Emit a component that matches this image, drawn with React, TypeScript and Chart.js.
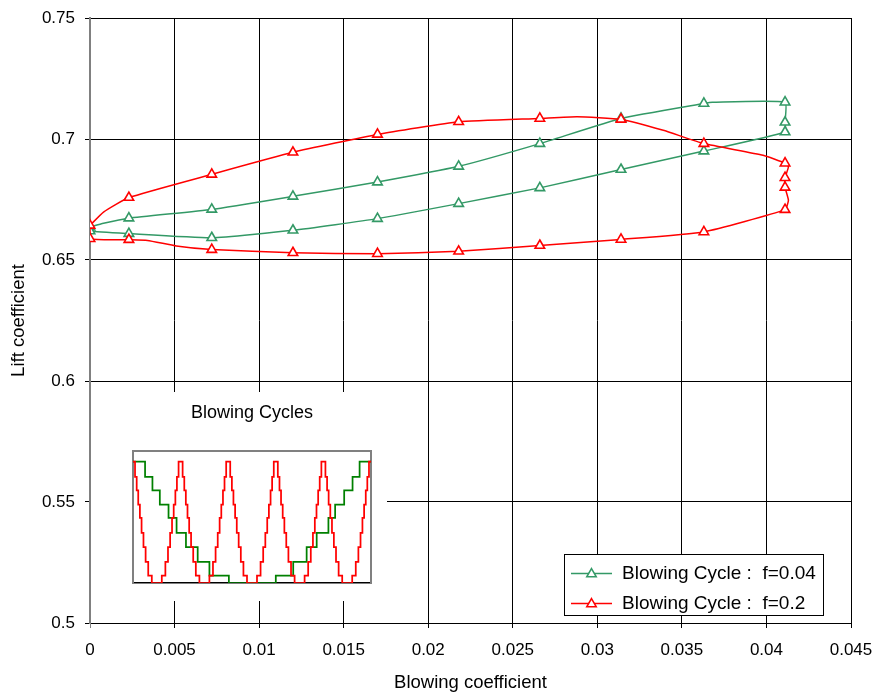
import { useEffect, useRef } from 'react';
import { Chart, registerables } from 'chart.js';
import { drawPoint } from 'chart.js/helpers';

Chart.register(...registerables);

const FONT = '"Liberation Sans", Arial, Helvetica, sans-serif';

// Axis ticks
const X_TICKS = [0, 0.005, 0.01, 0.015, 0.02, 0.025, 0.03, 0.035, 0.04, 0.045];
const X_TICK_LABELS = ['0', '0.005', '0.01', '0.015', '0.02', '0.025', '0.03', '0.035', '0.04', '0.045'];
const Y_TICKS = [0.5, 0.55, 0.6, 0.65, 0.7, 0.75];
const Y_TICK_LABELS = ['0.5', '0.55', '0.6', '0.65', '0.7', '0.75'];

const X_TITLE = 'Blowing coefficient';
const Y_TITLE = 'Lift coefficient';
const SERIES_LABELS = ['Blowing Cycle :  f=0.04', 'Blowing Cycle :  f=0.2'];

// Hysteresis loop, f = 0.04 (blowing coefficient, lift coefficient, marker flag)
const F004_CMU = [
  0, 0.0008, 0.0023, 0.0072, 0.012, 0.017, 0.0218, 0.0266, 0.0314, 0.0363, 0.0368, 0.0411,
  0.0411, 0.0411, 0.0363, 0.0314, 0.0266, 0.0218, 0.017, 0.012, 0.0072, 0.0023, 0, 0,
];
const F004_CL = [
  0.6636, 0.6652, 0.6673, 0.6709, 0.6763, 0.6822, 0.6887, 0.6981, 0.7085, 0.7147, 0.7152, 0.7152,
  0.7069, 0.7029, 0.695, 0.6874, 0.6798, 0.6733, 0.6671, 0.6623, 0.6592, 0.6609, 0.662, 0.6636,
];
const F004_MARK = [1, 0, 1, 1, 1, 1, 1, 1, 1, 1, 0, 1, 1, 1, 1, 1, 1, 1, 1, 1, 1, 1, 1, 0];

// Hysteresis loop, f = 0.2
const F02_CMU = [
  0, 0.0008, 0.0023, 0.0072, 0.012, 0.017, 0.0218, 0.0266, 0.0288, 0.0314, 0.0339, 0.0363,
  0.0398, 0.0411, 0.0413, 0.0411, 0.0411, 0.0413, 0.0411, 0.0363, 0.0314, 0.0266, 0.0218,
  0.017, 0.012, 0.0072, 0.0051, 0.0034, 0.0023, 0, 0,
];
const F02_CL = [
  0.6643, 0.6698, 0.6758, 0.6854, 0.6945, 0.7019, 0.7071, 0.7085, 0.7092, 0.7081, 0.7036, 0.6981,
  0.6933, 0.69, 0.6885, 0.684, 0.68, 0.6747, 0.6708, 0.6616, 0.6585, 0.656, 0.6536,
  0.6526, 0.653, 0.6543, 0.6558, 0.6581, 0.6584, 0.6588, 0.6643,
];
const F02_MARK = [
  1, 0, 1, 1, 1, 1, 1, 1, 0, 1, 0, 1,
  0, 1, 0, 1, 1, 0, 1, 1, 1, 1, 1,
  1, 1, 1, 0, 0, 1, 1, 0,
];

// Inset: blowing cycle waveforms (normalised time 0-100, normalised amplitude 0-1)
const CYCLE_F004_T = [
  0, 5.07, 8.17, 11.27, 14.93, 18.31, 22.25, 27.18, 32.11, 40.28,
  60.0, 67.32, 72.96, 77.18, 82.11, 84.93, 88.73, 92.25, 95.21, 100,
];
const CYCLE_F004_A = [
  1, 0.873, 0.763, 0.645, 0.537, 0.413, 0.295, 0.174, 0.061, 0,
  0.061, 0.174, 0.295, 0.413, 0.537, 0.645, 0.763, 0.873, 1, 1,
];
const CYCLE_F02_T = [
  0,
  0.85, 1.55, 2.2, 2.9, 3.6, 4.4, 5.3, 6.4, 7.9, 12.1, 13.6, 14.7, 15.6, 16.4, 17.1, 17.8, 18.45, 19.15,
  20.85, 21.55, 22.2, 22.9, 23.6, 24.4, 25.3, 26.4, 27.9, 32.1, 33.6, 34.7, 35.6, 36.4, 37.1, 37.8, 38.45, 39.15,
  40.85, 41.55, 42.2, 42.9, 43.6, 44.4, 45.3, 46.4, 47.9, 52.1, 53.6, 54.7, 55.6, 56.4, 57.1, 57.8, 58.45, 59.15,
  60.85, 61.55, 62.2, 62.9, 63.6, 64.4, 65.3, 66.4, 67.9, 72.1, 73.6, 74.7, 75.6, 76.4, 77.1, 77.8, 78.45, 79.15,
  80.85, 81.55, 82.2, 82.9, 83.6, 84.4, 85.3, 86.4, 87.9, 92.1, 93.6, 94.7, 95.6, 96.4, 97.1, 97.8, 98.45, 99.15,
  100,
];
const CYCLE_F02_A = [
  1,
  0.873, 0.763, 0.645, 0.537, 0.413, 0.295, 0.174, 0.061, 0, 0.061, 0.174, 0.295, 0.413, 0.537, 0.645, 0.763, 0.873, 1,
  0.873, 0.763, 0.645, 0.537, 0.413, 0.295, 0.174, 0.061, 0, 0.061, 0.174, 0.295, 0.413, 0.537, 0.645, 0.763, 0.873, 1,
  0.873, 0.763, 0.645, 0.537, 0.413, 0.295, 0.174, 0.061, 0, 0.061, 0.174, 0.295, 0.413, 0.537, 0.645, 0.763, 0.873, 1,
  0.873, 0.763, 0.645, 0.537, 0.413, 0.295, 0.174, 0.061, 0, 0.061, 0.174, 0.295, 0.413, 0.537, 0.645, 0.763, 0.873, 1,
  0.873, 0.763, 0.645, 0.537, 0.413, 0.295, 0.174, 0.061, 0, 0.061, 0.174, 0.295, 0.413, 0.537, 0.645, 0.763, 0.873, 1,
  1,
];
const INSET_TITLE = 'Blowing Cycles';

const GREEN = '#339966';
const RED = '#ff0000';
const CYCLE_GREEN = '#008000';
const MARKER_RADIUS = 5.5;

const toPoints = (xs: number[], ys: number[]) => xs.map((x, i) => ({ x, y: ys[i] }));

// Boxed legend drawn in the lower right corner of the plot area
const legendBox = {
  id: 'legendBox',
  afterDraw(chart: any) {
    const { ctx, chartArea } = chart;
    const w = 259;
    const h = 61;
    const x = chartArea.right - 28 - w;
    const y = chartArea.bottom - 8 - h;
    ctx.save();
    ctx.fillStyle = '#ffffff';
    ctx.fillRect(x, y, w, h);
    ctx.strokeStyle = '#000000';
    ctx.lineWidth = 1;
    ctx.strokeRect(x + 0.5, y + 0.5, w, h);
    chart.data.datasets.forEach((ds: any, i: number) => {
      const cy = y + 19.5 + i * 30;
      ctx.strokeStyle = ds.borderColor;
      ctx.lineWidth = 1.5;
      ctx.beginPath();
      ctx.moveTo(x + 7, cy);
      ctx.lineTo(x + 48, cy);
      ctx.stroke();
      ctx.fillStyle = '#ffffff';
      drawPoint(
        ctx,
        { pointStyle: 'triangle', radius: MARKER_RADIUS, borderWidth: 1.6, rotation: 0 } as any,
        x + 27.5,
        cy + 0.5,
      );
      ctx.fillStyle = '#000000';
      ctx.font = `19px ${FONT}`;
      ctx.textBaseline = 'middle';
      ctx.textAlign = 'left';
      ctx.fillText(ds.label, x + 58, cy);
    });
    ctx.restore();
  },
};

export default function App() {
  const mainRef = useRef<HTMLCanvasElement>(null);
  const insetRef = useRef<HTMLCanvasElement>(null);

  useEffect(() => {
    Chart.defaults.font.family = FONT;
    Chart.defaults.color = '#000';

    const main = new Chart(mainRef.current!, {
      type: 'scatter',
      data: {
        datasets: [
          {
            label: SERIES_LABELS[0],
            data: toPoints(F004_CMU, F004_CL),
            showLine: true,
            borderColor: GREEN,
            borderWidth: 1.5,
            tension: 0.15,
            pointStyle: 'triangle',
            pointRadius: F004_MARK.map((m) => (m ? MARKER_RADIUS : 0)),
            pointBorderWidth: 1.6,
            pointBorderColor: GREEN,
            pointBackgroundColor: '#ffffff',
            order: 1,
          },
          {
            label: SERIES_LABELS[1],
            data: toPoints(F02_CMU, F02_CL),
            showLine: true,
            borderColor: RED,
            borderWidth: 1.5,
            tension: 0.15,
            pointStyle: 'triangle',
            pointRadius: F02_MARK.map((m) => (m ? MARKER_RADIUS : 0)),
            pointBorderWidth: 1.6,
            pointBorderColor: RED,
            pointBackgroundColor: '#ffffff',
            order: 0,
          },
        ],
      },
      options: {
        animation: false,
        responsive: false,
        events: [],
        layout: { padding: { top: 18, right: 27, left: 0, bottom: 0 } },
        plugins: { legend: { display: false }, tooltip: { enabled: false } },
        scales: {
          x: {
            type: 'linear',
            min: 0,
            max: 0.045,
            afterBuildTicks: (s: any) => {
              s.ticks = X_TICKS.map((value) => ({ value }));
            },
            afterFit: (s: any) => {
              s.height = 74;
              s.paddingLeft = 0;
              s.paddingRight = 0;
            },
            ticks: {
              callback: (_v: any, i: number) => X_TICK_LABELS[i],
              padding: 12,
              font: { size: 17 },
              color: '#000',
              maxRotation: 0,
              autoSkip: false,
            },
            grid: {
              color: (c: any) => (c.index === 0 ? '#808080' : '#000000'),
              lineWidth: 1,
              tickLength: 5,
            },
            border: { color: '#000000', width: 1 },
            title: {
              display: true,
              text: X_TITLE,
              font: { size: 18.5 },
              color: '#000',
              padding: { top: 0, bottom: 3 },
            },
          },
          y: {
            type: 'linear',
            min: 0.5,
            max: 0.75,
            afterBuildTicks: (s: any) => {
              s.ticks = Y_TICKS.map((value) => ({ value }));
            },
            afterFit: (s: any) => {
              s.width = 90;
              s.paddingTop = 0;
              s.paddingBottom = 0;
            },
            ticks: {
              callback: (_v: any, i: number) => Y_TICK_LABELS[i],
              padding: 10,
              font: { size: 17 },
              color: '#000',
            },
            grid: { color: '#000000', lineWidth: 1, tickLength: 5 },
            border: { color: '#808080', width: 2 },
            title: {
              display: true,
              text: Y_TITLE,
              font: { size: 18.5 },
              color: '#000',
              padding: { top: 8, bottom: 0 },
            },
          },
        },
      },
      plugins: [legendBox],
    } as any);

    const hidden = { display: false };
    const inset = new Chart(insetRef.current!, {
      type: 'line',
      data: {
        datasets: [
          {
            label: 'f=0.2',
            data: toPoints(CYCLE_F02_T, CYCLE_F02_A),
            borderColor: RED,
            borderWidth: 1.75,
            stepped: 'before',
            pointRadius: 0,
            order: 0,
          },
          {
            label: 'f=0.04',
            data: toPoints(CYCLE_F004_T, CYCLE_F004_A),
            borderColor: CYCLE_GREEN,
            borderWidth: 1.75,
            stepped: 'before',
            pointRadius: 0,
            order: 1,
          },
        ],
      },
      options: {
        animation: false,
        responsive: false,
        events: [],
        layout: { padding: { left: 42, right: 16, top: 0, bottom: 18 } },
        plugins: {
          legend: { display: false },
          tooltip: { enabled: false },
          title: {
            display: true,
            text: INSET_TITLE,
            fullSize: false,
            color: '#000',
            font: { size: 18, weight: 'normal' },
            padding: { top: 10, bottom: 27 },
          },
        },
        scales: {
          x: {
            type: 'linear',
            min: 0,
            max: 100,
            ticks: hidden,
            grid: hidden,
            border: { color: '#000000', width: 1.5 },
            afterFit: (s: any) => {
              s.height = 0;
            },
          },
          xTop: {
            type: 'linear',
            position: 'top',
            min: 0,
            max: 100,
            ticks: hidden,
            grid: hidden,
            border: { color: '#808080', width: 2 },
            afterFit: (s: any) => {
              s.height = 0;
            },
          },
          y: {
            type: 'linear',
            min: 0,
            max: 1.09,
            ticks: hidden,
            grid: hidden,
            border: { color: '#808080', width: 2 },
            afterFit: (s: any) => {
              s.width = 0;
            },
          },
          yRight: {
            type: 'linear',
            position: 'right',
            min: 0,
            max: 1.09,
            ticks: hidden,
            grid: hidden,
            border: { color: '#808080', width: 2 },
            afterFit: (s: any) => {
              s.width = 0;
            },
          },
        },
      },
    } as any);

    return () => {
      main.destroy();
      inset.destroy();
    };
  }, []);

  return (
    <div style={{ position: 'absolute', left: 0, top: 0, width: 878, height: 697, background: '#fff' }}>
      <canvas ref={mainRef} width={878} height={697} style={{ position: 'absolute', left: 0, top: 0 }} />
      <canvas
        ref={insetRef}
        width={296}
        height={209}
        style={{ position: 'absolute', left: 91, top: 392, background: '#fff' }}
      />
    </div>
  );
}
